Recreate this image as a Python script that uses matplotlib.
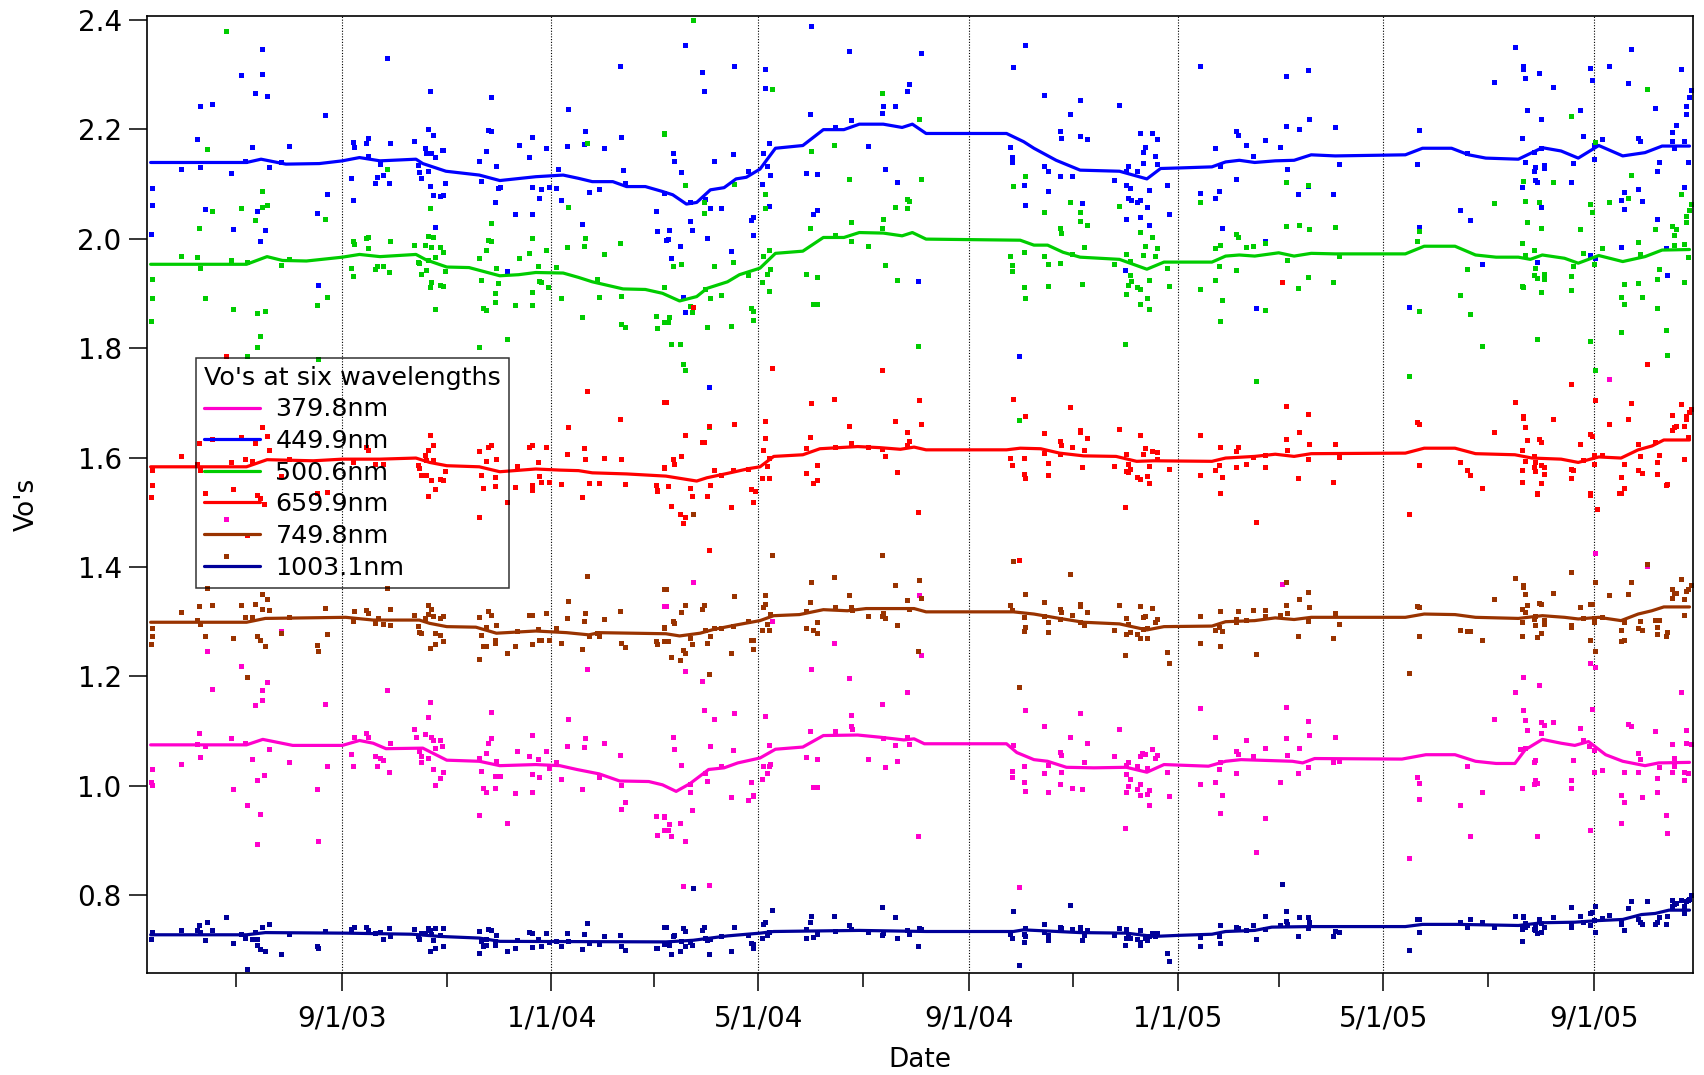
import datetime
import numpy as np
import matplotlib
matplotlib.use("Agg")
import matplotlib.pyplot as plt
import matplotlib.dates as mdates
from matplotlib.ticker import FuncFormatter

# all times are days counted from 1 Jan 2003
t0 = mdates.date2num(datetime.date(2003, 1, 1))

names = ["379.8nm", "449.9nm", "500.6nm", "659.9nm", "749.8nm", "1003.1nm"]
colors = ["#ff00cc", "#0000ff", "#00cc00", "#ff0000", "#993300", "#000099"]

# ---- smoothed Vo curves (day, Vo) ----
fit_380 = [(131,1.075),(187,1.075),(196.5,1.085),(214,1.074),(243,1.074),(253,1.083),(261,1.078),(268.5,1.068),
           (290,1.069),(304,1.047),(323,1.045),(335,1.037),(356,1.039),(370,1.037),(380,1.030),(393,1.022),
           (405,1.009),(422,1.008),(430,1.002),(438,0.990),(446,1.004),(457,1.030),(466,1.033),(474,1.042),
           (487,1.051),(496,1.067),(512,1.071),(524,1.092),(544,1.093),(557,1.089),(571,1.084),(577,1.086),
           (583,1.077),(631,1.077),(637,1.061),(647,1.048),(655,1.045),(666,1.034),(682,1.033),(701,1.034),
           (713,1.025),(723,1.039),(749,1.036),(759,1.045),(768,1.048),(798,1.045),(804,1.042),(811,1.050),
           (862,1.049),(876,1.057),(893,1.057),(905,1.045),(917,1.041),(928,1.041),(934,1.066),(944,1.085),
           (955,1.078),(963,1.074),(971,1.081),(981,1.057),(991,1.045),(1004,1.037),(1012,1.042),(1030,1.043)]
fit_450 = [(131,2.139),(187,2.139),(195.5,2.145),(210,2.136),(229.5,2.137),(243,2.142),(253,2.148),(265,2.142),
           (286,2.145),(290,2.137),(303.5,2.123),(323,2.116),(335,2.106),(356,2.113),(372,2.116),(381,2.110),
           (389,2.104),(401,2.104),(409,2.095),(420,2.095),(430,2.086),(436,2.080),(444,2.063),(450,2.066),
           (458,2.089),(466,2.093),(473,2.109),(479,2.112),(487,2.127),(496,2.165),(512,2.170),(524,2.199),
           (536,2.199),(545,2.209),(559,2.209),(570,2.203),(576,2.209),(584,2.192),(631,2.192),(641,2.177),
           (647,2.165),(660,2.143),(674,2.125),(697,2.123),(713,2.109),(721,2.128),(732,2.129),(751,2.131),
           (759,2.140),(767,2.143),(776,2.139),(788,2.142),(799,2.143),(809,2.153),(823,2.151),(864,2.153),
           (874,2.165),(891,2.165),(901,2.153),(911,2.147),(930,2.145),(944,2.166),(955,2.160),(965,2.147),
           (977,2.170),(991,2.151),(1004,2.157),(1014,2.169),(1030,2.169)]
fit_501 = [(131,1.953),(187,1.953),(199,1.967),(208,1.960),(222,1.959),(243,1.966),(253,1.971),(265,1.967),
           (286,1.971),(292,1.961),(304,1.948),(317,1.947),(335,1.932),(346,1.934),(356,1.938),(372,1.937),
           (381,1.929),(389,1.921),(407,1.908),(420,1.907),(430,1.900),(440,1.886),(450,1.894),(456,1.909),
           (468,1.921),(475,1.934),(487,1.946),(496,1.973),(512,1.977),(524,2.002),(536,2.002),(545,2.011),
           (559,2.010),(570,2.005),(576,2.011),(584,1.999),(639,1.997),(647,1.988),(655,1.988),(664,1.975),
           (674,1.966),(697,1.962),(713,1.944),(723,1.957),(751,1.957),(759,1.968),(767,1.970),(776,1.968),
           (790,1.974),(799,1.968),(809,1.973),(823,1.972),(864,1.972),(875,1.986),(893,1.986),(905,1.970),
           (917,1.966),(930,1.966),(937,1.962),(944,1.970),(957,1.964),(965,1.955),(977,1.969),(991,1.958),
           (1004,1.967),(1014,1.979),(1030,1.980)]
fit_660 = [(131,1.583),(187,1.583),(199,1.596),(226,1.594),(243,1.597),(265,1.597),(286,1.599),(294,1.591),
           (304,1.585),(323,1.583),(335,1.574),(356,1.579),(370,1.577),(381,1.576),(389,1.572),(409,1.570),
           (432,1.566),(450,1.557),(456,1.563),(468,1.571),(481,1.580),(487,1.583),(495,1.602),(512,1.605),
           (522,1.616),(544,1.620),(557,1.618),(569,1.615),(577,1.619),(584,1.614),(631,1.614),(639,1.617),
           (651,1.616),(662,1.608),(676,1.603),(695,1.602),(707,1.593),(717,1.594),(751,1.593),(759,1.599),
           (776,1.602),(788,1.606),(799,1.602),(809,1.607),(864,1.608),(875,1.617),(893,1.617),(905,1.607),
           (928,1.605),(938,1.599),(955,1.597),(965,1.591),(977,1.601),(990,1.599),(1000,1.614),(1008,1.621),
           (1015,1.632),(1030,1.632)]
fit_750 = [(131,1.299),(187,1.299),(198,1.306),(245,1.308),(261,1.303),(288,1.303),(294,1.297),(304,1.291),
           (321,1.290),(333,1.279),(356,1.283),(374,1.280),(387,1.276),(393,1.280),(432,1.278),(440,1.274),
           (452,1.279),(460,1.286),(473,1.294),(487,1.302),(495,1.311),(510,1.313),(524,1.322),(538,1.320),
           (549,1.324),(577,1.324),(584,1.318),(635,1.318),(647,1.314),(662,1.306),(676,1.299),(697,1.296),
           (713,1.285),(723,1.291),(751,1.292),(759,1.300),(776,1.302),(788,1.307),(799,1.304),(809,1.308),
           (864,1.308),(875,1.314),(893,1.313),(905,1.308),(930,1.306),(944,1.311),(957,1.308),(965,1.305),
           (977,1.308),(990,1.302),(1000,1.314),(1008,1.320),(1015,1.327),(1030,1.327)]
fit_1003 = [(131,0.728),(187,0.728),(198,0.732),(245,0.731),(284,0.729),(300,0.725),(323,0.722),(335,0.716),
            (432,0.715),(448,0.718),(468,0.726),(487,0.731),(495,0.734),(545,0.736),(584,0.734),(635,0.734),
            (641,0.737),(674,0.732),(701,0.731),(717,0.725),(732,0.727),(751,0.729),(759,0.734),(776,0.736),
            (786,0.742),(809,0.743),(864,0.743),(874,0.747),(895,0.747),(930,0.745),(944,0.750),(963,0.751),
            (977,0.754),(991,0.756),(1002,0.765),(1010,0.767),(1018,0.773),(1030,0.773)]

# ---- individual Vo retrievals (day, Vo) ----
pts_380 = [(175,1.487),(164,1.247),(184,1.219),(199,1.189),(196,1.175),(196,1.157),(192,1.147),(167,1.177),(233,1.150),
 (269,1.175),(207,1.283),(159,1.096),(178,1.088),(158,1.077),(163,1.073),(186,1.078),(200,1.068),(160,1.052),(149,1.040),
 (132,1.031),(131,1.007),(132,1.001),(190,1.049),(193,1.011),(197,1.020),(212,1.044),(179,0.994),(187,0.965),(195,0.949),
 (193,0.894),(228,0.995),(229,0.899),(234,1.037),(250,1.090),(248,1.058),(249,1.037),(257,1.096),(258,1.089),(262,1.054),
 (263,1.036),(265,1.051),(267,1.047),(270,1.025),(271,1.078),(285,1.104),(286,1.089),(288,1.063),(289,1.055),(291,1.095),
 (293,1.125),(294,1.153),(293,1.051),(289,1.043),(295,1.090),(296,1.084),(297,1.069),(300,1.083),(301,1.072),(296,1.031),
 (302,1.025),(300,1.014),(297,1.001),(323,1.051),(324,1.028),(327,1.060),(328,1.078),(330,1.087),(330,1.135),(333,1.045),
 (332,1.019),(335,1.019),(325,0.996),(327,0.988),(332,0.996),(323,0.946),(339,0.932),(344,0.987),(345,1.063),(352,1.054),
 (354,1.093),(354,1.022),(358,1.017),(354,0.988),(357,1.049),(362,1.064),(364,1.033),(368,1.043),(371,1.012),(374,1.072),
 (375,1.123),(383,0.994),(385,1.087),(384,1.071),(386,1.214),(393,1.017),(396,1.078),(405,1.057),(406,1.002),(406,0.958),
 (408,0.970),(426,0.945),(427,0.910),(431,0.945),(431,0.919),(431,1.328),
 (432,1.328),(448,1.372),(443,1.210),(453,1.192),(454,1.138),(460,1.122),(472,1.133),(436,1.089),(437,1.068),(441,1.039),
 (458,1.073),(471,1.065),(464,1.037),(455,1.023),(456,1.009),(446,1.004),(446,0.989),(470,0.979),(447,0.956),(431,0.944),
 (434,0.930),(433,0.920),(440,0.933),(435,0.908),(443,0.899),(442,0.818),(457,0.819),(480,0.974),(482,1.007),(483,0.983),
 (483,0.982),(488,1.012),(489,1.036),(490,1.128),(491,1.023),(492,1.036),(492,1.074),(493,1.040),(494,1.302),(517,1.213),
 (516,1.101),(514,1.052),(520,1.050),(518,0.998),(520,0.998),(530,1.262),(531,1.100),(539,1.198),(540,1.129),(540,1.110),
 (541,1.104),(550,1.050),(558,1.150),(559,1.088),(560,1.034),(566,1.074),(567,1.045),(573,1.171),(573,1.089),(574,1.077),
 (580,1.349),(581,1.240),(579,0.909),(638,0.816),(642,1.138),(635,1.075),(634,1.028),(634,1.016),(641,1.037),(641,1.008),
 (642,0.990),(653,1.110),(653,1.023),(655,1.039),(655,0.988),(662,1.062),(663,1.056),(663,1.026),(662,1.004),(668,1.089),
 (669,0.997),(674,1.134),(678,1.078),(676,1.044),(675,0.994),(697,1.104),(694,1.054),(700,0.923),(701,1.039),(702,1.044),
 (701,1.022),(703,1.012),(702,1.000),(701,0.989),(707,0.994),(709,1.003),(709,0.983),(707,1.037),(709,1.054),(710,1.060),
 (712,1.058),(713,1.033),(714,0.993),(713,0.985),(714,0.966),(716,1.067),(719,1.056),(718,1.051),(725,1.026),(726,0.982),
 (744,1.142),(744,1.003),(753,1.089),(755,1.031),(753,1.008),(757,0.984),(756,0.950),(756,1.044),(765,1.064),(766,1.058),
 (765,1.023),(771,1.084),(775,1.054),(782,1.070),(782,0.942),(777,0.880),(791,1.008),(794,1.145),(794,1.087),(795,1.056),
 (792,1.369),(802,1.070),(801,1.023),(807,1.118),(808,1.093),(807,1.034),(823,1.090),(822,1.043),(825,1.045),(871,1.017),
 (872,1.006),(872,0.976),(866,0.869),(896,0.966),(900,1.036),(902,0.909),(909,0.989),(916,1.122),(928,1.171),(933,1.199),
 (933,1.139),(934,1.121),(935,1.103),(942,1.184),(943,1.096),(943,1.117),(945,1.111),(931,1.068),(934,1.069),(939,1.044),
 (940,1.047),(940,1.011),(939,1.004),(941,1.005),(932,0.997),(941,0.908),(950,1.117),(966,1.106),(968,1.083),(962,1.047),
 (961,1.010),(961,0.997),(972,1.224),(975,1.218),(975,1.426),(973,1.141),(971,1.073),(974,1.066),(974,1.026),(972,0.919),
 (979,1.029),(994,1.114),(996,1.110),(992,1.026),(990,0.984),(992,0.970),(990,0.932),(1000,1.061),(1001,1.050),(1000,1.025),
 (1002,0.980),(1010,1.101),(1012,1.034),(1011,1.014),(1011,0.988),(1016,0.947),(1017,0.914),(1005,1.401),(1020,1.076),
 (1021,1.051),(1021,1.037),(1020,1.025),(1025,1.172),(1028,1.103),(1028,1.078),(1031,1.077),(1027,1.025),(1029,1.023),
 (1027,1.011),(983,1.744)]

pts_450 = [(132,2.093),(132,2.062),(131,2.008),(149,2.127),(158,2.181),(160,2.242),(160,2.130),(163,2.054),(167,2.246),
 (178,2.119),(179,2.018),(184,2.298),(186,2.142),(190,2.167),(192,2.266),(193,2.050),(195,1.996),(196,2.347),(196,2.300),
 (198,2.016),(199,2.261),(200,2.130),(207,2.140),(212,2.170),(229,1.915),(228,2.046),(233,2.225),(234,2.081),(248,2.111),
 (249,2.070),(249,2.177),(250,2.168),(257,2.175),(258,2.183),(258,2.151),(262,2.101),(263,2.112),(265,2.137),(267,2.117),
 (269,2.330),(270,2.102),(271,2.175),(285,2.178),(287,2.134),(288,2.122),(289,2.110),(291,2.166),(292,2.157),(293,2.200),
 (293,2.123),(294,2.096),(294,2.270),(295,2.157),(296,2.079),(296,2.190),(297,2.149),(297,2.021),(300,2.077),(301,2.161),
 (302,2.161),(302,2.079),(303,2.101),(323,2.141),(324,2.105),(327,2.160),(328,2.198),(330,2.196),(330,2.259),(332,2.066),
 (333,2.133),(334,2.092),(335,2.094),(339,1.941),(344,2.045),(346,2.171),(352,2.149),(354,2.094),(354,2.185),(354,2.045),
 (358,2.074),(359,2.091),(362,2.166),(364,2.094),(368,2.093),(369,2.127),(371,2.071),(374,2.170),(375,2.237),(383,2.026),
 (384,2.172),(385,2.197),(387,2.085),(393,2.091),(396,2.166),(405,2.316),(406,2.186),(407,2.126),(408,2.101),(426,2.051),
 (427,2.014),(432,1.997),
 (431,2.084),(443,2.354),(436,2.157),(437,2.141),(441,2.122),(453,2.304),(454,2.270),(472,2.315),(471,2.154),(460,2.141),
 (434,2.015),(433,1.999),(440,1.986),(435,1.964),(446,2.067),(446,2.032),(447,2.015),(455,2.073),(458,2.055),(464,2.055),
 (456,2.001),(470,1.978),(442,1.894),(443,1.866),(457,1.728),(482,2.034),(483,2.040),(483,2.006),(480,2.124),(488,2.099),
 (489,2.157),(490,2.309),(490,2.275),(491,2.133),(492,2.060),(492,2.175),(493,2.116),(517,2.388),(516,2.227),(514,2.119),
 (520,2.118),(518,2.045),(520,2.053),(531,2.204),(539,2.343),(540,2.217),(550,2.170),(559,2.243),(558,2.230),(566,2.242),
 (560,2.127),(567,2.104),(573,2.269),(574,2.283),(581,2.339),(579,1.922),(635,2.313),(642,2.353),(633,2.167),(634,2.149),
 (634,2.140),(641,2.097),(642,2.062),(638,1.785),(653,2.262),(653,2.132),(655,2.123),(655,2.087),(662,2.196),(663,2.184),
 (662,2.114),(668,2.227),(669,2.115),(674,2.188),(674,2.254),(678,2.182),(675,2.065),(697,2.244),(694,2.107),(701,2.123),
 (702,2.132),(701,2.098),(703,2.093),(702,2.075),(704,2.070),(707,2.067),(709,2.070),(707,2.123),(709,2.193),(711,2.159),
 (712,2.167),(711,2.138),(716,2.192),(719,2.181),(718,2.150),(719,2.137),(714,2.089),(713,2.057),(709,2.040),(714,2.024),
 (701,2.036),(726,2.045),(725,2.098),(700,1.942),
 (744,2.315),(753,2.165),(756,2.132),(744,2.083),(753,2.074),(755,2.086),(757,2.020),(765,2.197),(766,2.190),(765,2.109),
 (771,2.171),(775,2.151),(782,2.180),(782,1.996),(777,1.874),(791,2.168),(794,2.297),(794,2.205),(795,2.128),(801,2.081),
 (802,2.201),(807,2.308),(808,2.218),(807,2.096),(823,2.203),(825,2.137),(822,2.081),(871,2.137),(872,2.199),(872,2.022),
 (866,1.875),(896,2.052),(900,2.156),(902,2.033),(909,1.953),(916,2.286),(928,2.350),(933,2.316),(933,2.310),(934,2.293),
 (942,2.303),(935,2.235),(943,2.219),(932,2.183),(939,2.159),(934,2.140),(940,2.131),(939,2.124),(943,2.165),(945,2.129),
 (945,2.135),(940,2.107),(941,2.103),(932,2.094),(943,2.058),(941,1.957),(950,2.276),(961,2.104),(962,2.138),(966,2.235),
 (968,2.187),(972,2.312),(973,2.290),(974,2.171),(974,2.145),(972,1.970),(975,1.964),(979,2.181),(983,2.315),(994,2.284),
 (996,2.347),(990,2.070),(992,2.085),(992,2.054),(1000,2.091),(1000,2.184),(1001,2.178),(1002,2.068),(990,1.985),
 (1010,2.238),(1012,2.140),(1011,2.124),(1011,2.036),(1017,1.933),(1016,1.982),(1020,2.179),(1020,2.195),(1022,2.208),
 (1021,2.166),(1025,2.310),(1027,2.178),(1027,2.095),(1028,2.243),(1028,2.227),(1029,2.140),(1030,2.258),(1031,2.271)]

pts_501 = [(175,2.380),(164,2.163),(196,2.086),(196,2.058),(199,2.061),(184,2.056),(167,2.050),(159,2.019),(192,2.034),
 (149,1.969),(158,1.966),(160,1.947),(178,1.960),(187,1.957),(132,1.926),(132,1.892),(131,1.850),(163,1.891),(179,1.871),
 (193,1.864),(198,1.867),(195,1.822),(193,1.802),(187,1.786),(207,1.951),(212,1.963),(233,2.035),(234,1.893),(228,1.879),
 (229,1.780),(248,1.947),(249,1.932),(249,1.995),(250,1.990),(257,2.001),(258,2.003),(258,1.983),(262,1.944),(263,1.949),
 (267,1.950),(270,1.938),(271,1.995),(269,2.127),(285,1.989),(287,1.958),(288,1.955),(289,1.936),(291,1.989),(292,1.942),
 (293,2.005),(293,1.961),(294,2.056),(295,1.985),(296,2.003),(297,1.967),(295,1.920),(294,1.912),(297,1.872),(300,1.984),
 (302,1.976),(303,1.941),(300,1.916),(302,1.914),(323,1.965),(324,1.925),(323,1.801),(327,1.980),(328,1.998),(330,1.995),
 (330,2.028),(325,1.874),(327,1.869),(332,1.900),(332,1.885),(333,1.947),(334,1.919),(339,1.816),(344,1.878),(346,1.965),
 (352,1.974),(354,1.903),(354,2.001),(354,1.878),(357,1.950),(358,1.923),(359,1.921),(362,1.980),(363,1.912),(368,1.948),
 (371,1.891),(374,1.985),(375,2.058),(383,1.856),(385,2.001),(384,1.986),(386,2.175),(393,1.894),(392,1.926),(396,1.972),
 (405,1.991),(406,1.895),(406,1.844),(408,1.838),(426,1.858),(427,1.837),(431,2.192),(431,1.911),(431,1.848),
 (448,2.400),(431,2.191),(443,2.097),(454,2.067),(454,2.047),(472,2.099),(471,1.958),(460,1.950),(436,1.949),(441,1.953),
 (431,1.911),(455,1.908),(458,1.892),(464,1.896),(434,1.857),(433,1.847),(447,1.865),(446,1.877),(456,1.838),(470,1.840),
 (435,1.808),(440,1.807),(442,1.770),(443,1.759),(457,1.656),(480,1.934),(482,1.874),(483,1.868),(483,1.852),(488,1.921),
 (489,1.969),(490,2.081),(490,2.056),(491,1.935),(492,1.904),(492,1.980),(493,1.944),(494,2.274),(517,2.160),(516,2.019),
 (514,1.935),(520,1.930),(518,1.880),(520,1.880),(530,2.171),(531,2.006),(539,2.109),(540,2.030),(540,1.996),(550,1.987),
 (558,2.266),(559,2.035),(558,2.020),(560,1.951),(566,2.058),(567,1.925),(573,2.072),(574,2.069),(573,2.056),(580,2.219),
 (581,2.109),(579,1.803),(635,2.096),(642,2.114),(633,1.969),(634,1.952),(634,1.941),(641,1.975),(641,1.911),(642,1.891),
 (638,1.669),(653,2.048),(653,1.969),(655,1.954),(655,1.914),(662,2.019),(663,2.011),(662,1.956),(668,2.067),(669,1.972),
 (674,2.049),(674,2.032),(678,2.025),(676,1.985),(675,1.917),(697,2.059),(694,1.954),(701,1.971),(703,1.959),(703,1.934),
 (704,1.923),(702,1.916),(701,1.899),(707,1.912),(709,1.908),(709,2.012),(712,1.986),(711,1.970),(716,2.002),(719,1.982),
 (718,1.969),(714,1.924),(713,1.892),(709,1.881),(714,1.871),(700,1.808),(726,1.913),(725,1.946),
 (744,2.066),(756,1.989),(753,1.982),(755,1.949),(753,1.925),(744,1.907),(757,1.888),(756,1.850),(765,2.008),(766,2.002),
 (771,1.984),(775,1.986),(782,1.992),(765,1.943),(782,1.869),(777,1.740),(794,2.103),(794,2.023),(802,2.025),(807,2.097),
 (808,2.017),(795,1.960),(807,1.930),(801,1.910),(823,2.021),(825,1.968),(822,1.920),(871,1.996),(872,2.014),(872,1.868),
 (866,1.748),(900,1.945),(896,1.896),(902,1.863),(909,1.804),(916,2.065),(932,1.991),(934,1.970),(933,2.105),(934,2.068),
 (935,2.031),(939,1.980),(942,2.067),(943,2.020),(940,1.947),(939,1.933),(941,1.928),(945,1.935),(945,1.927),(932,1.914),
 (933,1.911),(943,1.902),(941,1.816),(950,2.103),(961,2.224),(961,1.932),(962,1.950),(961,1.906),(966,2.017),(968,1.974),
 (972,2.063),(973,2.048),(975,2.176),(974,1.953),(972,1.813),(975,1.760),(979,1.982),(983,2.066),(994,2.074),(996,2.117),
 (990,1.893),(992,1.881),(992,1.917),(990,1.829),(1000,1.994),(1001,1.971),(1000,1.919),(1002,1.894),(1005,2.274),
 (1010,2.018),(1011,1.927),(1012,1.944),(1011,1.874),(1016,1.833),(1017,1.788),(1020,2.023),(1021,2.006),(1022,2.017),
 (1021,1.988),(1025,2.081),(1027,1.990),(1027,1.921),(1028,2.031),(1028,2.041),(1029,1.966),(1030,2.053),(1031,2.064)]

pts_660 = [(175,1.786),(386,1.722),(405,1.670),(375,1.655),(431,1.702),(196,1.655),(199,1.640),(167,1.633),(184,1.638),
 (192,1.627),(159,1.627),(149,1.602),(132,1.577),(132,1.550),(158,1.588),(160,1.578),(178,1.592),(186,1.598),(190,1.594),
 (200,1.614),(212,1.598),(207,1.566),(179,1.543),(163,1.536),(294,1.642),(296,1.623),(293,1.613),(291,1.605),(292,1.595),
 (296,1.595),(287,1.586),(288,1.580),(303,1.576),(257,1.619),(258,1.614),(262,1.588),(249,1.592),(267,1.589),(289,1.568),
 (292,1.568),(295,1.559),(300,1.560),(302,1.558),(297,1.543),(323,1.612),(328,1.619),(330,1.623),(327,1.594),(333,1.597),
 (324,1.568),(332,1.565),(325,1.544),(332,1.548),(344,1.547),(345,1.585),(352,1.619),(354,1.622),(362,1.619),(357,1.591),
 (358,1.566),(354,1.550),(359,1.556),(364,1.556),(371,1.551),(374,1.606),(384,1.617),(385,1.598),(396,1.600),(406,1.597),
 (387,1.554),(393,1.553),(408,1.551),(426,1.550),(427,1.541),(431,1.580),
 (131,1.527),(163,1.536),(193,1.532),(195,1.526),(197,1.515),(228,1.536),(234,1.537),(293,1.530),(323,1.492),(339,1.518),
 (354,1.541),(383,1.527),(187,1.459),(427,1.539),
 (432,1.702),(448,1.875),(443,1.642),(454,1.629),(453,1.628),(472,1.661),(457,1.657),(436,1.597),(437,1.588),(441,1.603),
 (431,1.582),(460,1.577),(471,1.577),(464,1.568),(480,1.579),(458,1.549),(446,1.544),(433,1.548),(482,1.543),(490,1.666),
 (490,1.636),(489,1.613),(494,1.764),(492,1.599),(491,1.585),(488,1.563),(492,1.562),(517,1.700),(516,1.637),(514,1.617),
 (520,1.586),(514,1.571),(518,1.554),(520,1.558),(530,1.707),(539,1.658),(540,1.627),(531,1.620),(550,1.620),(558,1.760),
 (558,1.616),(560,1.602),(566,1.666),(573,1.647),(574,1.631),(573,1.623),(580,1.705),(581,1.662),(567,1.573),(635,1.707),
 (642,1.675),(633,1.599),(634,1.586),(641,1.599),(641,1.569),(642,1.562),(653,1.644),(653,1.609),(655,1.590),(655,1.568),
 (668,1.692),(662,1.631),(663,1.623),(662,1.606),(669,1.620),(674,1.650),(674,1.647),(678,1.635),(676,1.613),(675,1.583),
 (697,1.652),(694,1.585),(701,1.606),(702,1.588),(701,1.576),(703,1.579),(702,1.573),(707,1.565),(709,1.560),(709,1.641),
 (712,1.618),(711,1.606),(716,1.612),(719,1.610),(719,1.597),(714,1.584),(713,1.566),(714,1.553),(726,1.579),
 (435,1.512),(440,1.497),(442,1.480),(443,1.491),(447,1.530),(456,1.529),(470,1.509),(483,1.518),(457,1.431),(579,1.501),
 (638,1.412),(700,1.509),(484,1.538),
 (744,1.642),(756,1.620),(744,1.568),(753,1.577),(755,1.586),(757,1.565),(756,1.536),(765,1.611),(766,1.619),(765,1.583),
 (771,1.589),(775,1.601),(782,1.605),(782,1.583),(794,1.695),(794,1.634),(795,1.613),(802,1.647),(807,1.680),(808,1.624),
 (807,1.597),(801,1.563),(823,1.625),(825,1.601),(822,1.555),(792,1.920),(871,1.665),(872,1.662),(872,1.586),(896,1.592),
 (900,1.578),(902,1.568),(909,1.544),(916,1.647),(928,1.702),(933,1.675),(933,1.673),(934,1.656),(935,1.632),(942,1.634),
 (943,1.629),(932,1.614),(939,1.603),(934,1.594),(940,1.592),(939,1.583),(943,1.586),(945,1.582),(940,1.575),(945,1.569),
 (932,1.577),(932,1.556),(943,1.553),(941,1.535),(950,1.671),(961,1.734),(966,1.625),(961,1.579),(962,1.577),(961,1.563),
 (968,1.596),(972,1.643),(973,1.640),(975,1.705),(974,1.605),(974,1.588),(972,1.535),(979,1.605),(983,1.662),(994,1.671),
 (996,1.700),(992,1.588),(990,1.565),(992,1.545),(990,1.536),(1000,1.625),(1001,1.603),(1000,1.578),(1002,1.572),
 (1005,1.771),(1010,1.628),(1012,1.604),(1011,1.591),(1011,1.570),(1016,1.549),(1017,1.552),(1020,1.677),(1020,1.650),
 (1021,1.655),(1022,1.658),(1025,1.697),(1027,1.657),(1027,1.598),(1028,1.670),(1028,1.675),(1029,1.638),(1030,1.684),
 (1031,1.689),(756,1.536),(777,1.482),(866,1.497),(941,1.534),(972,1.532),(976,1.506),(989,1.535)]

pts_750 = [(175,1.420),(164,1.361),(196,1.350),(199,1.341),(149,1.317),(159,1.329),(167,1.330),(184,1.331),(192,1.333),
 (196,1.324),(200,1.322),(186,1.308),(190,1.308),(158,1.303),(160,1.295),(132,1.289),(132,1.273),(131,1.260),(163,1.274),
 (179,1.271),(193,1.273),(195,1.267),(198,1.255),(187,1.199),(212,1.308),(207,1.279),(233,1.325),(234,1.277),(228,1.258),
 (229,1.246),(250,1.320),(249,1.301),(257,1.322),(258,1.315),(262,1.297),(264,1.306),(267,1.295),(271,1.294),(271,1.323),
 (269,1.361),(285,1.313),(287,1.292),(288,1.282),(289,1.279),(291,1.306),(293,1.314),(293,1.331),(295,1.324),(296,1.310),
 (297,1.279),(300,1.275),(300,1.306),(302,1.311),(302,1.264),(297,1.260),(294,1.252),(323,1.308),(324,1.276),(323,1.232),
 (328,1.319),(330,1.313),(327,1.290),(333,1.294),(332,1.267),(332,1.261),(325,1.255),(327,1.256),(339,1.243),(344,1.256),
 (345,1.283),(352,1.313),(354,1.313),(362,1.315),(357,1.286),(358,1.267),(354,1.260),(359,1.267),(364,1.267),(368,1.289),
 (371,1.262),(374,1.306),(375,1.338),(386,1.384),(385,1.316),(384,1.302),(383,1.250),(387,1.273),(392,1.280),(393,1.273),
 (396,1.305),(405,1.319),(406,1.262),(408,1.254),(426,1.265),(427,1.259),(431,1.359),(431,1.290),(431,1.264),
 (432,1.359),(448,1.496),(443,1.331),(441,1.317),(454,1.331),(453,1.323),(472,1.347),(436,1.302),(437,1.297),(431,1.289),
 (455,1.285),(460,1.289),(464,1.289),(471,1.293),(458,1.274),(446,1.270),(447,1.260),(433,1.265),(456,1.261),(442,1.249),
 (443,1.242),(435,1.236),(440,1.230),(457,1.205),(470,1.242),(480,1.302),(482,1.267),(483,1.266),(483,1.251),(488,1.284),
 (489,1.327),(490,1.349),(490,1.332),(491,1.296),(492,1.285),(493,1.314),(494,1.421),(517,1.372),(516,1.336),(514,1.320),
 (520,1.300),(514,1.288),(518,1.284),(520,1.280),(530,1.381),(531,1.327),(539,1.348),(540,1.327),(541,1.321),(550,1.311),
 (558,1.422),(559,1.316),(558,1.311),(560,1.306),(566,1.367),(567,1.294),(573,1.339),(574,1.323),(580,1.376),(581,1.343),
 (579,1.247),(635,1.410),(638,1.181),(642,1.350),(633,1.331),(634,1.322),(641,1.308),(642,1.290),(641,1.283),(653,1.336),
 (653,1.310),(655,1.299),(655,1.281),(668,1.387),(662,1.323),(663,1.317),(662,1.305),(669,1.313),(674,1.333),(674,1.328),
 (678,1.317),(674,1.300),(676,1.294),(697,1.331),(694,1.284),(701,1.306),(702,1.295),(701,1.278),(703,1.282),(700,1.240),
 (707,1.278),(709,1.270),(709,1.329),(711,1.309),(712,1.311),(711,1.286),(713,1.270),(716,1.325),(719,1.305),(718,1.299),
 (713,1.288),(725,1.244),(726,1.225),
 (744,1.310),(756,1.320),(744,1.261),(753,1.285),(755,1.291),(757,1.283),(756,1.256),(765,1.305),(766,1.319),(765,1.300),
 (771,1.303),(775,1.321),(782,1.321),(782,1.311),(777,1.241),(791,1.312),(794,1.373),(794,1.331),(795,1.316),(802,1.341),
 (807,1.354),(808,1.326),(807,1.302),(801,1.274),(823,1.316),(825,1.296),(822,1.271),(871,1.328),(872,1.327),(872,1.274),
 (866,1.206),(896,1.284),(900,1.283),(902,1.283),(909,1.267),(916,1.342),(928,1.380),(933,1.363),(933,1.367),(934,1.351),
 (935,1.330),(942,1.335),(943,1.333),(932,1.323),(934,1.317),(940,1.311),(939,1.305),(945,1.303),(940,1.294),(945,1.296),
 (932,1.300),(932,1.274),(943,1.280),(941,1.272),(950,1.353),(961,1.390),(961,1.294),(961,1.290),(966,1.327),(968,1.306),
 (972,1.333),(973,1.333),(975,1.372),(974,1.306),(974,1.300),(972,1.267),(975,1.246),(979,1.308),(983,1.348),(994,1.350),
 (996,1.372),(992,1.300),(990,1.285),(990,1.265),(992,1.266),(1001,1.302),(1000,1.289),(1002,1.285),(1005,1.406),
 (1010,1.303),(1012,1.303),(1011,1.291),(1011,1.278),(1016,1.273),(1017,1.282),(1020,1.360),(1021,1.353),(1022,1.352),
 (1020,1.343),(1025,1.378),(1027,1.341),(1027,1.313),(1028,1.357),(1029,1.359),(1031,1.367)]

pts_1003 = [(175,0.760),(164,0.751),(196,0.742),(200,0.748),(149,0.737),(159,0.746),(167,0.737),(158,0.736),(160,0.734),
 (132,0.734),(131,0.720),(163,0.718),(179,0.713),(184,0.729),(186,0.723),(190,0.721),(193,0.720),(192,0.734),(193,0.709),
 (195,0.702),(198,0.698),(207,0.693),(187,0.665),(212,0.729),(233,0.735),(228,0.708),(229,0.704),(248,0.738),(250,0.743),
 (257,0.742),(258,0.737),(262,0.731),(265,0.734),(267,0.720),(270,0.740),(271,0.725),(285,0.738),(287,0.725),(288,0.720),
 (289,0.731),(291,0.732),(293,0.740),(294,0.736),(295,0.729),(296,0.719),(297,0.740),(300,0.728),(302,0.740),(302,0.707),
 (297,0.704),(294,0.698),(323,0.735),(324,0.716),(323,0.695),(328,0.738),(330,0.737),(327,0.720),(333,0.728),(332,0.716),
 (325,0.707),(327,0.709),(332,0.710),(339,0.699),(344,0.703),(345,0.718),(352,0.734),(354,0.731),(362,0.731),(357,0.720),
 (354,0.706),(359,0.707),(364,0.714),(368,0.717),(371,0.707),(374,0.732),(375,0.716),(384,0.729),(386,0.749),(383,0.702),
 (387,0.713),(393,0.712),(396,0.725),(405,0.728),(406,0.708),(408,0.701),(426,0.703),(427,0.704),(431,0.742),(431,0.712),
 (432,0.742),(442,0.740),(443,0.735),(454,0.742),(453,0.736),(472,0.742),(436,0.726),(437,0.727),(431,0.713),(434,0.709),
 (441,0.716),(446,0.714),(447,0.710),(443,0.707),(455,0.722),(456,0.718),(458,0.720),(464,0.726),(470,0.699),(435,0.692),
 (440,0.698),(457,0.692),(448,0.814),(480,0.728),(482,0.713),(483,0.711),(483,0.704),(488,0.723),(489,0.748),(490,0.751),
 (491,0.727),(492,0.734),(494,0.773),(517,0.763),(516,0.751),(514,0.739),(520,0.729),(514,0.722),(518,0.724),(530,0.763),
 (531,0.735),(539,0.745),(540,0.739),(550,0.733),(558,0.779),(559,0.731),(558,0.727),(566,0.760),(567,0.723),(573,0.737),
 (574,0.730),(580,0.740),(581,0.738),(579,0.707),(635,0.771),(638,0.672),(642,0.740),(633,0.730),(634,0.723),(641,0.729),
 (642,0.726),(641,0.715),(653,0.748),(653,0.734),(655,0.728),(655,0.718),(668,0.783),(662,0.742),(663,0.740),(662,0.736),
 (669,0.738),(674,0.742),(674,0.738),(678,0.736),(676,0.728),(675,0.719),(697,0.740),(694,0.727),(701,0.738),(702,0.725),
 (701,0.722),(700,0.709),(703,0.723),(707,0.720),(709,0.715),(709,0.709),(709,0.737),(712,0.723),(713,0.718),(714,0.725),
 (716,0.732),(719,0.731),(718,0.726),(725,0.694),(726,0.681),
 (744,0.724),(744,0.707),(756,0.746),(755,0.725),(756,0.713),(765,0.742),(766,0.740),(771,0.736),(775,0.746),(777,0.721),
 (782,0.763),(782,0.739),(791,0.745),(792,0.821),(794,0.772),(794,0.754),(795,0.748),(801,0.725),(802,0.760),(807,0.760),
 (808,0.751),(807,0.740),(823,0.735),(822,0.726),(825,0.733),(871,0.757),(872,0.757),(872,0.733),(866,0.700),(896,0.751),
 (900,0.743),(902,0.756),(909,0.751),(916,0.743),(928,0.762),(933,0.760),(933,0.762),(934,0.749),(935,0.746),(942,0.756),
 (943,0.749),(932,0.740),(934,0.743),(940,0.746),(939,0.739),(945,0.743),(940,0.736),(941,0.731),(943,0.733),(932,0.739),
 (932,0.716),(950,0.760),(961,0.778),(961,0.742),(961,0.746),(966,0.762),(968,0.751),(972,0.767),(973,0.769),(975,0.781),
 (974,0.755),(972,0.745),(975,0.734),(979,0.759),(983,0.765),(994,0.777),(996,0.789),(990,0.748),(990,0.754),(992,0.736),
 (1000,0.756),(1001,0.751),(1002,0.748),(1005,0.790),(1010,0.748),(1012,0.760),(1011,0.751),(1016,0.748),(1017,0.763),
 (1020,0.791),(1020,0.781),(1021,0.785),(1022,0.786),(1025,0.791),(1027,0.781),(1027,0.767),(1028,0.789),(1029,0.792),
 (1030,0.793),(1031,0.801)]

fits = [fit_380, fit_450, fit_501, fit_660, fit_750, fit_1003]
points = [pts_380, pts_450, pts_501, pts_660, pts_750, pts_1003]

fig = plt.figure(figsize=(17.04, 10.75), dpi=100)
ax = fig.add_axes([0.0861, 0.0953, 0.9075, 0.8895])

for pts, c in zip(points, colors):
    d, v = np.array(pts).T
    ax.plot(t0 + d, v, ls="none", marker="s", ms=3.6, mew=0, color=c)

handles = []
for fit, c, name in zip(fits, colors, names):
    d, v = np.array(fit).T
    h, = ax.plot(t0 + d, v, color=c, lw=2.3, label=name,
                 solid_joinstyle="round", solid_capstyle="round")
    handles.append(h)

ax.set_xlim(t0 + 128.7, t0 + 1032.1)
ax.set_ylim(0.659, 2.406)
ax.set_yticks([0.8, 1.0, 1.2, 1.4, 1.6, 1.8, 2.0, 2.2, 2.4])
ax.yaxis.set_major_formatter(FuncFormatter(lambda y, p: f"{y:.1f}"))

ax.xaxis.set_major_locator(mdates.MonthLocator(bymonth=[1, 5, 9]))
ax.xaxis.set_minor_locator(mdates.MonthLocator(bymonth=[3, 7, 11]))

def datefmt(x, pos):
    dt = mdates.num2date(x)
    return f"{dt.month}/{dt.day}/{dt:%y}"

ax.xaxis.set_major_formatter(FuncFormatter(datefmt))

ax.tick_params(axis="both", which="major", direction="out", length=13, width=1.1,
               labelsize=20, top=False, right=False)
ax.tick_params(axis="x", which="major", pad=10)
ax.tick_params(axis="y", which="major", pad=5)
ax.tick_params(axis="x", which="minor", direction="out", length=10, width=1.1)

ax.grid(axis="x", which="major", color="black", ls=(0, (1, 1.5)), lw=0.8)
ax.set_axisbelow(True)
for s in ax.spines.values():
    s.set_linewidth(1.2)

ax.set_xlabel("Date", fontsize=19)
ax.set_ylabel("Vo's", fontsize=19)
ax.xaxis.set_label_coords(0.5, -0.078)
ax.yaxis.set_label_coords(-0.069, 0.49)

leg = ax.legend(handles=handles, title="Vo's at six wavelengths", loc="upper left",
                bbox_to_anchor=(0.032, 0.643), borderaxespad=0, fontsize=18.3, title_fontsize=18.3,
                fancybox=False, frameon=True, edgecolor="black", handlelength=2.2,
                handletextpad=0.6, labelspacing=0.30, borderpad=0.32, alignment="left")
leg.get_frame().set_facecolor("none")
leg.get_frame().set_linewidth(1.1)

fig.savefig("out.png", dpi=100)
